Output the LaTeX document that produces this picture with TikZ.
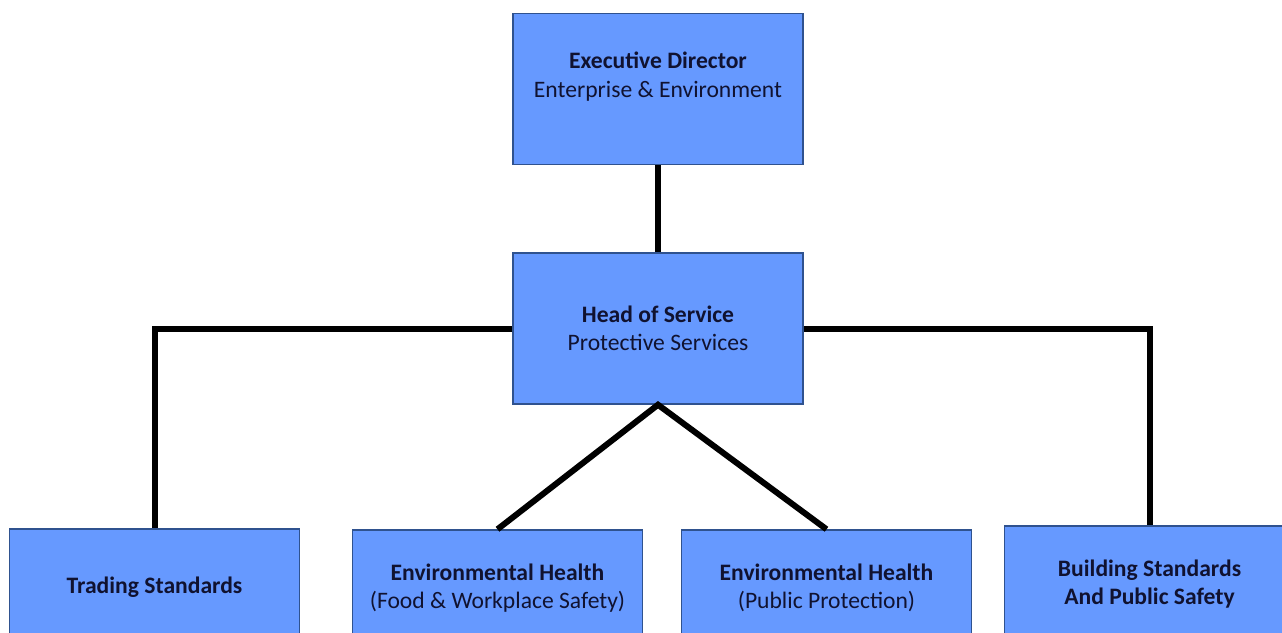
\documentclass[tikz,border=0pt]{standalone}
\usepackage{fontspec}
\setmainfont{Carlito}
\usepackage{tikz}
\usetikzlibrary{positioning}

\definecolor{boxfill}{RGB}{102,153,255}
\definecolor{boxline}{RGB}{47,82,143}
\definecolor{boxtext}{RGB}{16,18,48}

\tikzset{
  unit/.style={draw=boxline, fill=boxfill, line width=1.5pt, text=boxtext,
    minimum width=290pt, align=center, inner sep=0pt,
    font=\fontsize{23.6}{28.5}\selectfont},
  toprow/.style={unit, minimum height=151pt},
  lowrow/.style={unit, minimum height=116pt},
  link/.style={line width=6pt, black}
}

\begin{document}
\begin{tikzpicture}[x=1pt, y=-1pt]
  % page area
  \clip (0,0) rectangle (1282,632);
  \fill[white] (0,0) rectangle (1282,632);

  % management
  \node[toprow] (exec) at (658,89) {\textbf{Executive Director}\\Enterprise \& Environment\\ };
  \node[toprow] (head) at (658,328.5) {\textbf{Head of Service}\\Protective Services};

  % service teams
  \node[lowrow] (trading) at (154.5,587) {\textbf{Trading Standards}};
  \node[lowrow] (foodsafety) at (497.5,588) {\textbf{Environmental Health}\\(Food \& Workplace Safety)};
  \node[lowrow] (publicprot) at (826.5,588) {\textbf{Environmental Health}\\(Public Protection)};
  \node[lowrow] (building) at (1149.5,584) {\textbf{Building Standards}\\\textbf{And Public Safety}};

  % reporting lines
  \draw[link] (exec.south) -- (head.north);
  \draw[link] (head.west) -| (trading.north);
  \draw[link] (head.east) -| (building.north);
  \draw[link] (foodsafety.north) -- (head.south) -- (publicprot.north);
\end{tikzpicture}
\end{document}
